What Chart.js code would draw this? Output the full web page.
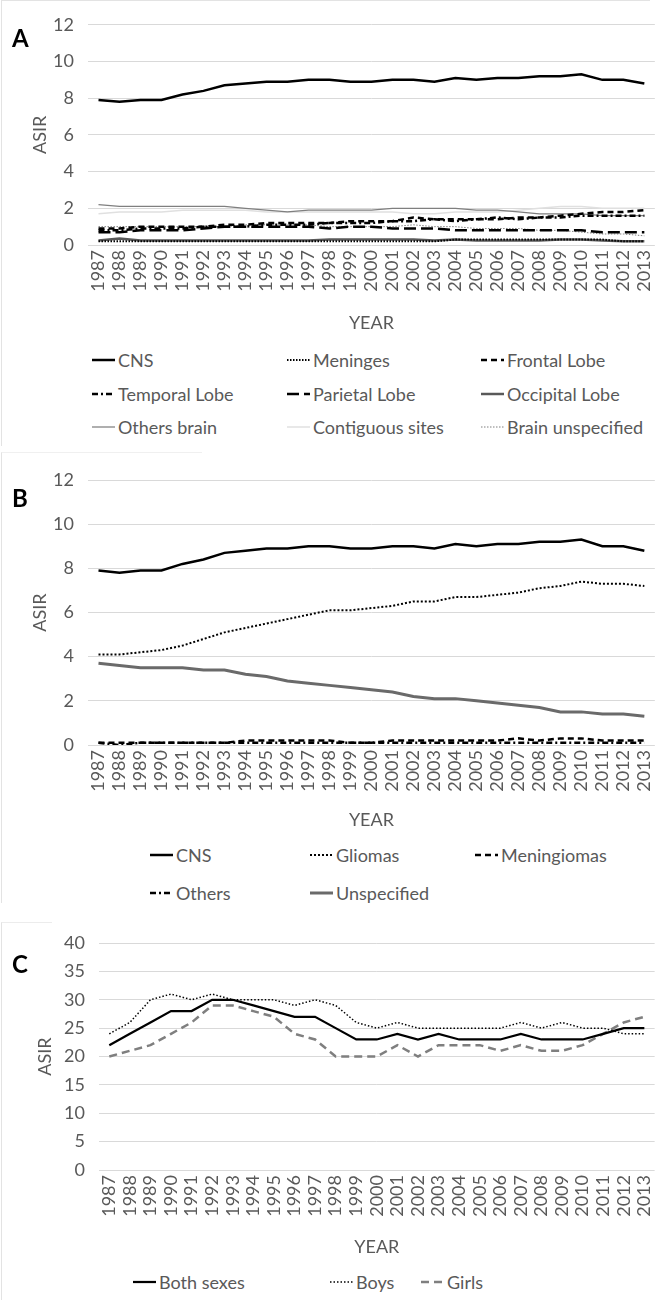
<!DOCTYPE html>
<html>
<head>
<meta charset="utf-8">
<script src="https://cdn.jsdelivr.net/npm/chart.js@4.4.1/dist/chart.umd.min.js"></script>
<style>
  body { margin: 0; background: #fff; }
  #page { position: relative; width: 671px; height: 1300px; overflow: hidden;
          font-family: 'Liberation Sans Narrow', Lato, sans-serif; }
  canvas { position: absolute; left: 0; }
  .letter { position: absolute; left: 12px; font: bold 24px Lato, sans-serif; color: #000; }
  .lg { position: absolute; display: flex; align-items: center; font-size: 18px;
        color: #595959; white-space: nowrap; transform: translateY(-50%); }
  .lg svg { margin-right: 3px; }
  .frame { position: absolute; border-left: 1px solid #e3e3e3; border-top: 1px solid #e3e3e3; }
</style>
</head>
<body>
<div id="page">
  <div class="frame" style="left:1px;top:0;width:648px;height:445px"></div>
  <div class="frame" style="left:1px;top:452px;width:200px;height:450px;border-top-color:#f0f0f0"></div>
  <div class="frame" style="left:1px;top:922px;width:50px;height:378px;border-top-color:#ececec"></div>
  <canvas id="chartA" width="671" height="334" style="top:0"></canvas>
  <canvas id="chartB" width="671" height="381" style="top:450px"></canvas>
  <canvas id="chartC" width="671" height="353" style="top:905px"></canvas>
  <div class="letter" style="top:23px">A</div>
  <div class="letter" style="top:483px">B</div>
  <div class="letter" style="top:949px">C</div>
</div>
<script>
// categories
const YEARS = ['1987', '1988', '1989', '1990', '1991', '1992', '1993', '1994', '1995',
  '1996', '1997', '1998', '1999', '2000', '2001', '2002', '2003', '2004', '2005',
  '2006', '2007', '2008', '2009', '2010', '2011', '2012', '2013'];

// shared: all CNS tumours
const cns = [7.9, 7.8, 7.9, 7.9, 8.2, 8.4, 8.7, 8.8, 8.9, 8.9, 9.0, 9.0, 8.9, 8.9,
  9.0, 9.0, 8.9, 9.1, 9.0, 9.1, 9.1, 9.2, 9.2, 9.3, 9.0, 9.0, 8.8];

// panel A: by site
const meninges = [0.2, 0.2, 0.2, 0.2, 0.2, 0.2, 0.2, 0.2, 0.2, 0.2, 0.2, 0.2, 0.2, 0.2,
  0.2, 0.2, 0.2, 0.3, 0.3, 0.3, 0.3, 0.3, 0.3, 0.3, 0.3, 0.2, 0.2];
const frontalLobe = [0.9, 0.9, 1.0, 1.0, 1.0, 1.0, 1.1, 1.1, 1.2, 1.2, 1.2, 1.2, 1.3, 1.3,
  1.3, 1.5, 1.4, 1.4, 1.4, 1.4, 1.5, 1.5, 1.6, 1.7, 1.8, 1.8, 1.9];
const temporalLobe = [0.8, 0.8, 0.9, 0.9, 0.9, 1.0, 1.0, 1.0, 1.1, 1.1, 1.1, 1.2, 1.2, 1.2,
  1.3, 1.3, 1.4, 1.3, 1.4, 1.5, 1.4, 1.5, 1.5, 1.6, 1.6, 1.6, 1.6];
const parietalLobe = [0.7, 0.7, 0.8, 0.8, 0.8, 0.9, 1.0, 1.0, 1.0, 1.0, 1.0, 0.9, 1.0, 1.0,
  0.9, 0.9, 0.9, 0.8, 0.8, 0.8, 0.8, 0.8, 0.8, 0.8, 0.7, 0.7, 0.7];
const occipitalLobe = [0.25, 0.35, 0.25, 0.25, 0.25, 0.25, 0.25, 0.25, 0.25, 0.25, 0.25, 0.3, 0.3, 0.3,
  0.3, 0.3, 0.25, 0.3, 0.25, 0.25, 0.25, 0.25, 0.3, 0.3, 0.25, 0.2, 0.2];
const othersBrain = [2.2, 2.1, 2.1, 2.1, 2.1, 2.1, 2.1, 2.0, 1.9, 1.8, 1.9, 1.9, 1.9, 1.9,
  2.0, 2.0, 2.0, 2.0, 1.9, 1.9, 1.8, 1.7, 1.7, 1.7, 1.6, 1.6, 1.6];
const contiguousSites = [1.7, 1.8, 1.8, 1.8, 1.9, 1.9, 1.9, 1.9, 1.8, 1.8, 1.8, 1.8, 1.8, 1.8,
  1.8, 1.7, 1.7, 1.8, 1.8, 1.8, 1.9, 2.0, 2.1, 2.1, 2.0, 2.0, 2.0];
const brainUnspecified = [1.0, 1.0, 1.0, 1.0, 1.0, 1.0, 1.0, 1.1, 1.1, 1.1, 1.1, 1.0, 1.0, 1.0,
  1.0, 1.1, 1.0, 1.0, 0.9, 0.9, 0.9, 0.8, 0.8, 0.7, 0.6, 0.6, 0.5];

// panel B: by histology
const gliomas = [4.1, 4.1, 4.2, 4.3, 4.5, 4.8, 5.1, 5.3, 5.5, 5.7, 5.9, 6.1, 6.1, 6.2,
  6.3, 6.5, 6.5, 6.7, 6.7, 6.8, 6.9, 7.1, 7.2, 7.4, 7.3, 7.3, 7.2];
const meningiomas = [0.1, 0.1, 0.1, 0.1, 0.1, 0.1, 0.1, 0.2, 0.2, 0.2, 0.2, 0.2, 0.1, 0.1,
  0.2, 0.2, 0.2, 0.2, 0.2, 0.2, 0.3, 0.2, 0.3, 0.3, 0.2, 0.2, 0.2];
const othersHisto = [0.1, 0.0, 0.1, 0.1, 0.1, 0.1, 0.1, 0.1, 0.1, 0.1, 0.1, 0.1, 0.1, 0.1,
  0.1, 0.1, 0.1, 0.1, 0.1, 0.1, 0.1, 0.1, 0.1, 0.1, 0.1, 0.1, 0.1];
const unspecified = [3.7, 3.6, 3.5, 3.5, 3.5, 3.4, 3.4, 3.2, 3.1, 2.9, 2.8, 2.7, 2.6, 2.5,
  2.4, 2.2, 2.1, 2.1, 2.0, 1.9, 1.8, 1.7, 1.5, 1.5, 1.4, 1.4, 1.3];

// panel C: by sex
const bothSexes = [22, 24, 26, 28, 28, 30, 30, 29, 28, 27, 27, 25, 23, 23,
  24, 23, 24, 23, 23, 23, 24, 23, 23, 23, 24, 25, 25];
const boys = [24, 26, 30, 31, 30, 31, 30, 30, 30, 29, 30, 29, 26, 25,
  26, 25, 25, 25, 25, 25, 26, 25, 26, 25, 25, 24, 24];
const girls = [20, 21, 22, 24, 26, 29, 29, 28, 27, 24, 23, 20, 20, 20,
  22, 20, 22, 22, 22, 21, 22, 21, 21, 22, 24, 26, 27];

const GREY = '#595959';
const FONT = { family: "'Liberation Sans Narrow', Lato, sans-serif", size: 18 };

function series(label, data, color, width, dash) {
  return { label, data, borderColor: color, backgroundColor: color, borderWidth: width,
    borderDash: dash || [], pointRadius: 0, tension: 0, fill: false };
}

function makeChart(id, datasets, opt) {
  const canvas = document.getElementById(id);
  return new Chart(canvas.getContext('2d'), {
    type: 'line',
    data: { labels: YEARS, datasets },
    options: {
      responsive: false,
      animation: false,
      layout: { padding: { top: opt.top, right: 671 - opt.right, left: 0, bottom: 0 } },
      plugins: { legend: { display: false }, tooltip: { enabled: false } },
      scales: {
        x: {
          offset: true,
          grid: { display: false, drawTicks: false },
          border: { display: false },
          ticks: { color: GREY, font: FONT, minRotation: 90, maxRotation: 90, autoSkip: false, padding: 5 },
          title: { display: true, text: 'YEAR', color: GREY, font: FONT, padding: 0 },
          afterFit: s => { s.height = opt.xAxisH; }
        },
        y: {
          min: 0, max: opt.max,
          ticks: { stepSize: opt.step, color: GREY, font: FONT, padding: 14 },
          grid: { color: '#d9d9d9', drawTicks: false },
          border: { display: false },
          title: { display: true, text: 'ASIR', color: GREY, font: FONT, padding: { top: opt.titleOff, bottom: 0 } },
          afterFit: s => { s.width = opt.left; }
        }
      }
    }
  });
}

// legend laid out as Excel's grid, built from the chart's datasets
function buildLegend(chart, cols, rows) {
  const page = document.getElementById('page');
  chart.data.datasets.forEach((ds, i) => {
    const item = document.createElement('div');
    item.className = 'lg';
    item.style.left = cols[i % cols.length] + 'px';
    item.style.top = rows[Math.floor(i / cols.length)] + 'px';
    const dash = ds.borderDash.length ? ds.borderDash.join(' ') : 'none';
    item.innerHTML = `<svg width="23" height="6"><line x1="0" y1="3" x2="23" y2="3" stroke="${ds.borderColor}"
      stroke-width="${ds.borderWidth}" stroke-dasharray="${dash}"/></svg><span>${ds.label}</span>`;
    page.appendChild(item);
  });
}

const chartA = makeChart('chartA', [
  series('CNS', cns, '#000', 2.5),
  series('Meninges', meninges, '#000', 2, [1.5, 1.5]),
  series('Frontal Lobe', frontalLobe, '#000', 2.5, [6, 4]),
  series('Temporal Lobe', temporalLobe, '#000', 2.5, [6, 3, 2, 3]),
  series('Parietal Lobe', parietalLobe, '#000', 2.5, [12, 5]),
  series('Occipital Lobe', occipitalLobe, '#595959', 2.5),
  series('Others brain', othersBrain, '#7f7f7f', 1.25),
  series('Contiguous sites', contiguousSites, '#e0e0e0', 1.5),
  series('Brain unspecified', brainUnspecified, '#7f7f7f', 1, [1.5, 1.5])
], { top: 17, right: 668, left: 88, xAxisH: 89, max: 12, step: 2, titleOff: 29 });

const chartB = makeChart('chartB', [
  series('CNS', cns, '#000', 2.5),
  series('Gliomas', gliomas, '#000', 2, [2, 2]),
  series('Meningiomas', meningiomas, '#000', 2.5, [6, 4]),
  series('Others', othersHisto, '#000', 2.5, [6, 3, 2, 3]),
  series('Unspecified', unspecified, '#6a6a6a', 3)
], { top: 30, right: 668, left: 88, xAxisH: 86, max: 12, step: 2, titleOff: 29 });

const chartC = makeChart('chartC', [
  series('Both sexes', bothSexes, '#000', 2.25),
  series('Boys', boys, '#000', 1.5, [1.5, 2]),
  series('Girls', girls, '#7f7f7f', 2.5, [8, 5])
], { top: 38, right: 668, left: 99, xAxisH: 88, max: 40, step: 5, titleOff: 34 });

buildLegend(chartA, [92, 287, 481], [360, 394, 427]);
buildLegend(chartB, [150, 310, 475], [855, 893]);
buildLegend(chartC, [133, 330, 421], [1282]);
</script>
</body>
</html>
